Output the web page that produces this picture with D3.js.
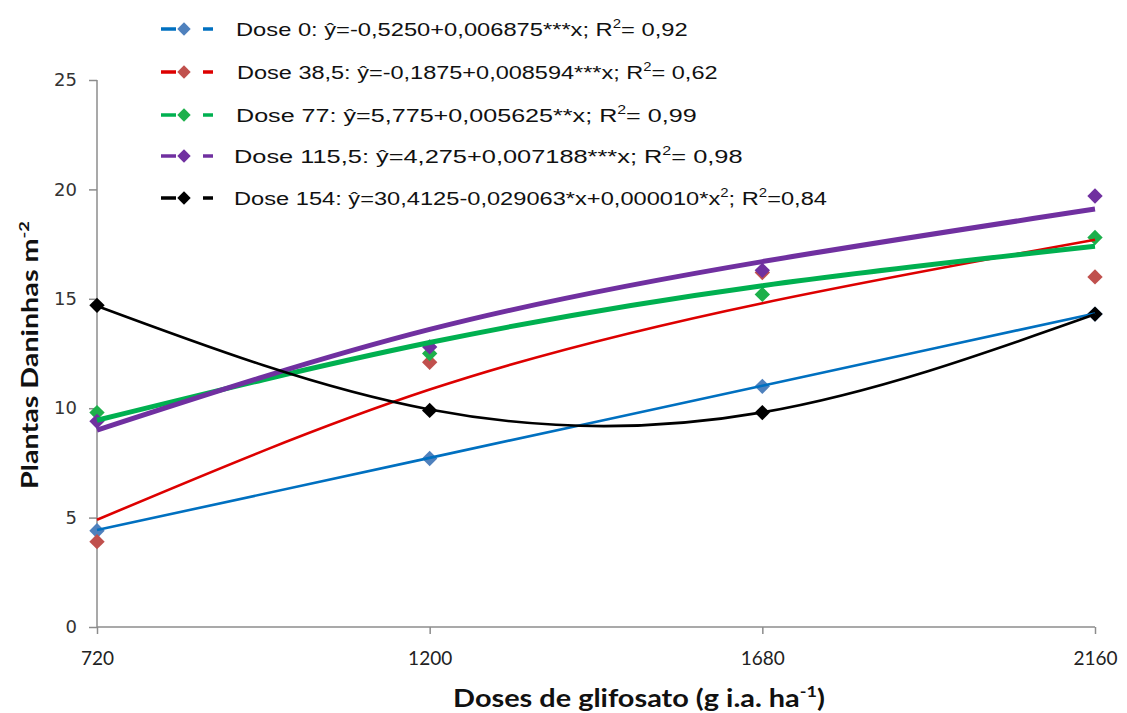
<!DOCTYPE html>
<html>
<head>
<meta charset="utf-8">
<script src="https://cdn.jsdelivr.net/npm/d3@7"></script>
<style>
  body { margin: 0; background: #fff; }
  svg { display: block; }
</style>
</head>
<body>
<div id="chart"></div>
<script>
// doses of glyphosate (x) and observed weed counts per herbicide dose (series)
var doses = [720, 1200, 1680, 2160];
var seriesNames = ["Dose 0", "Dose 38,5", "Dose 77", "Dose 115,5", "Dose 154"];

var obs0 = [4.4, 7.7, 11.0, 14.3];
var obs385 = [3.9, 12.1, 16.2, 16.0];
var obs77 = [9.8, 12.5, 15.2, 17.8];
var obs1155 = [9.4, 12.8, 16.3, 19.7];
var obs154 = [14.7, 9.9, 9.8, 14.3];

// trend line values at each dose
var fit0 = [4.43, 7.73, 11.03, 14.33];
var fit385 = [4.9, 10.85, 14.8, 17.7];
var fit77 = [9.45, 13.0, 15.6, 17.4];
var fit1155 = [9.0, 13.6, 16.7, 19.1];
var fit154 = [14.67, 9.94, 9.81, 14.29];

var yTicks = [0, 5, 10, 15, 20, 25];

// legend texts, pieces marked sup are superscripts
var legendTexts = [
    [["Dose 0: ŷ=-0,5250+0,006875***x; R"], ["2", "sup"], ["= 0,92"]],
    [["Dose 38,5: ŷ=-0,1875+0,008594***x; R"], ["2", "sup"], ["= 0,62"]],
    [["Dose 77: ŷ=5,775+0,005625**x; R"], ["2", "sup"], ["= 0,99"]],
    [["Dose 115,5: ŷ=4,275+0,007188***x; R"], ["2", "sup"], ["= 0,98"]],
    [["Dose 154: ŷ=30,4125-0,029063*x+0,000010*x"], ["2", "sup"], ["; R"], ["2", "sup"], ["=0,84"]]
];

var width = 1127, height = 713;
var markerColors = ["#4F81BD", "#C0504D", "#1DB04B", "#7030A0", "#000000"];
var lineColors = ["#0070C0", "#DD0000", "#00B050", "#7030A0", "#000000"];
var lineWidths = [2.6, 2.6, 5, 5, 2.6];

var observed = [obs0, obs385, obs77, obs1155, obs154];
var fitted = [fit0, fit385, fit77, fit1155, fit154];

var svg = d3.select("#chart").append("svg")
    .attr("width", width)
    .attr("height", height);

var xScale = d3.scaleLinear().domain([720, 2160]).range([97, 1095]);
var yScale = d3.scaleLinear().domain([0, 25]).range([627, 80]);

// y axis
var yAxis = d3.axisLeft(yScale).tickValues(yTicks).tickSize(8).tickPadding(12);
var gy = svg.append("g")
    .attr("transform", "translate(97,0)")
    .call(yAxis);
gy.select(".domain").attr("d", "M0,80V627");
gy.selectAll("line, path").attr("stroke", "#8C8C8C").attr("stroke-width", 1.5);
gy.selectAll("text")
    .attr("font-family", "DejaVu Sans")
    .attr("font-size", 18)
    .attr("fill", "#333");

// x axis
var xAxis = d3.axisBottom(xScale).tickValues(doses).tickSize(7).tickPadding(18)
    .tickFormat(d3.format("d"));
var gx = svg.append("g")
    .attr("transform", "translate(0,627)")
    .call(xAxis);
gx.select(".domain").attr("d", "M97,0H1095");
gx.selectAll("line, path").attr("stroke", "#8C8C8C").attr("stroke-width", 1.5);
gx.selectAll("text")
    .attr("font-family", "Lato")
    .attr("font-size", 19)
    .attr("fill", "#222");

function fitWidth(sel, target) {
    var w = sel.node().getBBox().width;
    var t = sel.attr("transform") || "";
    sel.attr("transform", t + " scale(" + (target / w) + ",1)");
}

// axis titles
var yTitle = svg.append("text")
    .attr("transform", "translate(38,355) rotate(-90)")
    .attr("text-anchor", "middle")
    .attr("font-family", "Lato")
    .attr("font-weight", "bold")
    .attr("font-size", 22)
    .attr("fill", "#111");
yTitle.append("tspan").text("Plantas Daninhas m");
yTitle.append("tspan").attr("dy", -9).attr("font-size", 14).text("-2");
fitWidth(yTitle, 268);

var xTitle = svg.append("text")
    .attr("transform", "translate(639,707)")
    .attr("text-anchor", "middle")
    .attr("font-family", "Lato")
    .attr("font-weight", "bold")
    .attr("font-size", 24)
    .attr("fill", "#111");
xTitle.append("tspan").text("Doses de glifosato (g i.a. ha");
xTitle.append("tspan").attr("dy", -10).attr("font-size", 15).text("-1");
xTitle.append("tspan").attr("dy", 10).text(")");
fitWidth(xTitle, 372);

// observed markers
var diamond = d3.symbol().type(d3.symbolSquare).size(118);
observed.forEach(function (vals, i) {
    svg.append("g").selectAll("path")
        .data(vals)
        .enter().append("path")
        .attr("d", diamond)
        .attr("transform", function (d, j) {
            return "translate(" + xScale(doses[j]) + "," + yScale(d) + ") rotate(45)";
        })
        .attr("fill", markerColors[i]);
});

// trend lines
var line = d3.line()
    .x(function (d, j) { return xScale(doses[j]); })
    .y(function (d) { return yScale(d); })
    .curve(d3.curveNatural);
fitted.forEach(function (vals, i) {
    svg.append("path")
        .datum(vals)
        .attr("d", line)
        .attr("fill", "none")
        .attr("stroke", lineColors[i])
        .attr("stroke-width", lineWidths[i]);
});

// legend
var legendY = [29, 72, 115, 156, 198];
var legendX = [236, 237, 236, 234, 234];
var legendW = [452, 481, 461, 509, 594];
var legendDiamond = d3.symbol().type(d3.symbolSquare).size(90);
seriesNames.forEach(function (name, i) {
    var g = svg.append("g").attr("class", "legend-item");
    g.append("line")
        .attr("x1", 161).attr("x2", 176)
        .attr("y1", legendY[i]).attr("y2", legendY[i])
        .attr("stroke", lineColors[i]).attr("stroke-width", 3.5);
    g.append("line")
        .attr("x1", 203).attr("x2", 213)
        .attr("y1", legendY[i]).attr("y2", legendY[i])
        .attr("stroke", lineColors[i]).attr("stroke-width", 3.5);
    g.append("path")
        .attr("d", legendDiamond)
        .attr("transform", "translate(184," + legendY[i] + ") rotate(45)")
        .attr("fill", markerColors[i]);

    var t = g.append("text")
        .attr("transform", "translate(" + legendX[i] + "," + (legendY[i] + 7) + ")")
        .attr("font-family", "Liberation Sans")
        .attr("font-size", 19)
        .attr("fill", "#111");
    legendTexts[i].forEach(function (p) {
        if (p[1] === "sup") {
            t.append("tspan").attr("dy", -8).attr("font-size", 12).text(p[0]);
        } else {
            var s = t.append("tspan").text(p[0]);
            if (t.selectAll("tspan").size() > 1) s.attr("dy", 8);
        }
    });
    fitWidth(t, legendW[i]);
});
</script>
</body>
</html>
